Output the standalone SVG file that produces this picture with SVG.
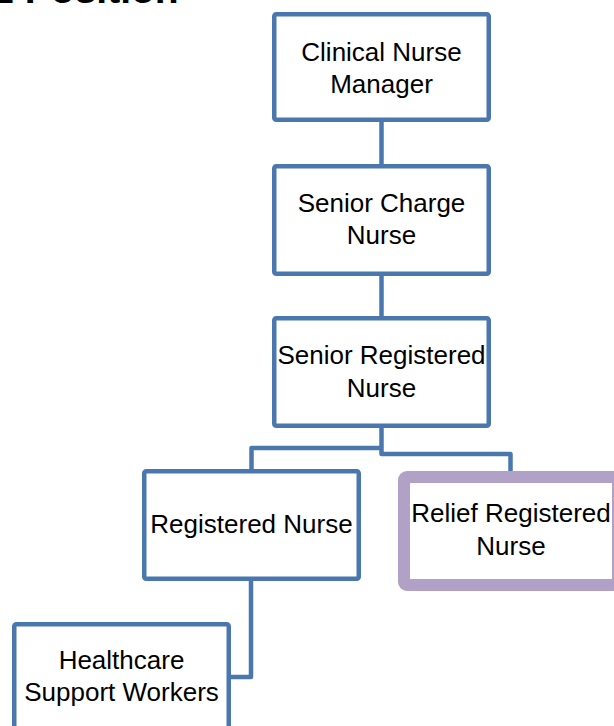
<svg xmlns="http://www.w3.org/2000/svg" width="614" height="726" viewBox="0 0 614 726">
<style>
.box{fill:#ffffff;stroke:#4a77ae;stroke-width:4.5;}
.relief{fill:#ffffff;stroke:#b2a1c7;stroke-width:12;}
.conn{fill:none;stroke:#4a77ae;stroke-width:4.5;stroke-linejoin:round;}
.lbl{font-family:"Liberation Sans",Arial,sans-serif;font-size:26px;fill:#000000;text-anchor:middle;}
.title{font-family:"Liberation Sans",Arial,sans-serif;font-size:39px;font-weight:bold;fill:#000000;}
</style>
<rect width="614" height="726" fill="#ffffff"/>
<text class="title" x="-12" y="3">E Position</text>
<g id="connectors">
<path class="conn" d="M381.5 122 V164"/>
<path class="conn" d="M381.5 276 V316"/>
<path class="conn" d="M381.5 428 V454 H510.5 V471"/>
<path class="conn" d="M381.5 448 H251.5 V469"/>
<path class="conn" d="M251 581 V677 H231"/>
</g>
<g id="clinical-nurse-manager">
<rect class="box" x="274.25" y="14.25" width="214.5" height="105.5" rx="2"/>
<text class="lbl" x="381.5" y="61">Clinical Nurse</text>
<text class="lbl" x="381.5" y="93">Manager</text>
</g>
<g id="senior-charge-nurse">
<rect class="box" x="274.25" y="166.25" width="214.5" height="107.5" rx="2"/>
<text class="lbl" x="381.5" y="212">Senior Charge</text>
<text class="lbl" x="381.5" y="244">Nurse</text>
</g>
<g id="senior-registered-nurse">
<rect class="box" x="274.25" y="318.25" width="214.5" height="107.5" rx="2"/>
<text class="lbl" x="381.5" y="364">Senior Registered</text>
<text class="lbl" x="381.5" y="397">Nurse</text>
</g>
<g id="registered-nurse">
<rect class="box" x="144.25" y="471.25" width="214.5" height="107.5" rx="2"/>
<text class="lbl" x="251.5" y="533">Registered Nurse</text>
</g>
<g id="relief-registered-nurse">
<rect class="relief" x="404" y="477" width="214" height="108" rx="3"/>
<text class="lbl" x="511" y="522">Relief Registered</text>
<text class="lbl" x="511" y="555">Nurse</text>
</g>
<g id="healthcare-support-workers">
<rect class="box" x="14.25" y="624.25" width="214.5" height="107.5" rx="2"/>
<text class="lbl" x="121.5" y="669">Healthcare</text>
<text class="lbl" x="121.5" y="701">Support Workers</text>
</g>
</svg>
